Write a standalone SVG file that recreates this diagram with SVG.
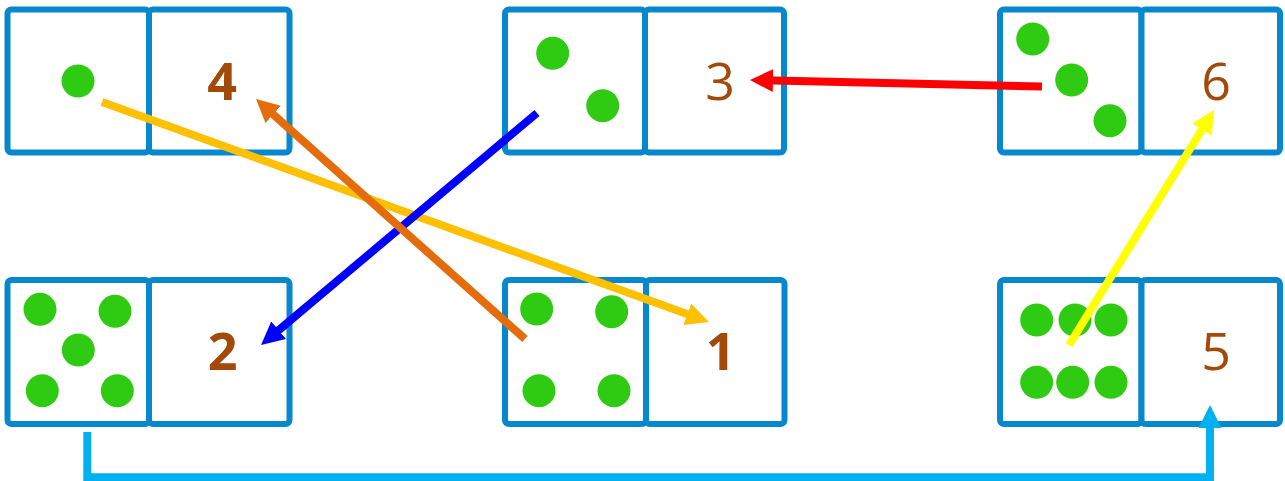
<svg xmlns="http://www.w3.org/2000/svg" width="1285" height="481" viewBox="0 0 1285 481">
<style>
.cell{fill:#fff;stroke:#0787cd;stroke-width:6}
.dot{fill:#2fcb12}
.num{font-family:"Open Sans","Liberation Sans",sans-serif;font-size:52px;fill:#a3490a;text-anchor:middle;font-weight:500}
.b{font-weight:bold}
.ln{fill:none;stroke-width:8}
</style>
<defs>
<marker id="mYo" markerUnits="userSpaceOnUse" markerWidth="23" markerHeight="23" refX="10" refY="11.5" orient="auto"><path d="M0,0 L23,11.5 L0,23 z" fill="#ffc000"/></marker>
<marker id="mOr" markerUnits="userSpaceOnUse" markerWidth="23" markerHeight="23" refX="10" refY="11.5" orient="auto"><path d="M0,0 L23,11.5 L0,23 z" fill="#e46c0a"/></marker>
<marker id="mBl" markerUnits="userSpaceOnUse" markerWidth="23" markerHeight="23" refX="10" refY="11.5" orient="auto"><path d="M0,0 L23,11.5 L0,23 z" fill="#0000ff"/></marker>
<marker id="mRd" markerUnits="userSpaceOnUse" markerWidth="23" markerHeight="23" refX="10" refY="11.5" orient="auto"><path d="M0,0 L23,11.5 L0,23 z" fill="#ff0000"/></marker>
<marker id="mYe" markerUnits="userSpaceOnUse" markerWidth="23" markerHeight="23" refX="10" refY="11.5" orient="auto"><path d="M0,0 L23,11.5 L0,23 z" fill="#ffff00"/></marker>
<marker id="mLb" markerUnits="userSpaceOnUse" markerWidth="23" markerHeight="23" refX="10" refY="11.5" orient="auto"><path d="M0,0 L23,11.5 L0,23 z" fill="#00b0f0"/></marker>
</defs>

<g id="domino-1-4">
<rect class="cell" x="7.5" y="9.5" width="141.5" height="143" rx="4"/>
<rect class="cell" x="149" y="9.5" width="140.5" height="143" rx="4"/>
<circle class="dot" cx="78" cy="81" r="16.5"/>
<text class="num b" x="222" y="100">4</text>
</g>

<g id="domino-2-3">
<rect class="cell" x="505" y="9.5" width="140" height="143" rx="4"/>
<rect class="cell" x="645" y="9.5" width="139" height="143" rx="4"/>
<circle class="dot" cx="552.7" cy="53.3" r="16.5"/>
<circle class="dot" cx="602.7" cy="105.7" r="16.5"/>
<text class="num" x="720" y="100">3</text>
</g>

<g id="domino-3-6">
<rect class="cell" x="1000" y="9.5" width="141.5" height="143" rx="4"/>
<rect class="cell" x="1141.5" y="9.5" width="138.5" height="143" rx="4"/>
<circle class="dot" cx="1032.7" cy="39" r="16.5"/>
<circle class="dot" cx="1071.7" cy="80" r="16.5"/>
<circle class="dot" cx="1110" cy="120.7" r="16.5"/>
<text class="num" x="1216" y="100">6</text>
</g>

<g id="domino-5-2">
<rect class="cell" x="7.5" y="280" width="141.5" height="144" rx="4"/>
<rect class="cell" x="149" y="280" width="140.5" height="144" rx="4"/>
<circle class="dot" cx="40" cy="309.3" r="16.5"/>
<circle class="dot" cx="115" cy="311.3" r="16.5"/>
<circle class="dot" cx="78.3" cy="350" r="16.5"/>
<circle class="dot" cx="42.3" cy="390.7" r="16.5"/>
<circle class="dot" cx="117.3" cy="390.7" r="16.5"/>
<text class="num b" x="222.7" y="370">2</text>
</g>

<g id="domino-4-1">
<rect class="cell" x="505" y="280" width="141" height="144" rx="4"/>
<rect class="cell" x="646" y="280" width="138.5" height="144" rx="4"/>
<circle class="dot" cx="536.7" cy="309" r="16.5"/>
<circle class="dot" cx="611.7" cy="311.7" r="16.5"/>
<circle class="dot" cx="539" cy="390.7" r="16.5"/>
<circle class="dot" cx="614" cy="390.7" r="16.5"/>
<text class="num b" x="720.7" y="370">1</text>
</g>

<g id="domino-6-5">
<rect class="cell" x="1000" y="280" width="141.5" height="144" rx="4"/>
<rect class="cell" x="1141.5" y="280" width="138.5" height="144" rx="4"/>
<circle class="dot" cx="1036.7" cy="320" r="16.5"/>
<circle class="dot" cx="1075" cy="320" r="16.5"/>
<circle class="dot" cx="1111" cy="320" r="16.5"/>
<circle class="dot" cx="1036.7" cy="382.3" r="16.5"/>
<circle class="dot" cx="1072.7" cy="382.3" r="16.5"/>
<circle class="dot" cx="1111" cy="382.3" r="16.5"/>
<text class="num" x="1216" y="370">5</text>
</g>

<g id="connectors">
<line class="ln" x1="102" y1="102" x2="696.7" y2="317.6" stroke="#ffc000" marker-end="url(#mYo)"/>
<line class="ln" x1="537" y1="113" x2="271" y2="336.6" stroke="#0000ff" marker-end="url(#mBl)"/>
<line class="ln" x1="525" y1="339" x2="265.7" y2="107.7" stroke="#e46c0a" marker-end="url(#mOr)"/>
<line class="ln" x1="1042" y1="86.5" x2="763" y2="80.3" stroke="#ff0000" marker-end="url(#mRd)"/>
<line class="ln" x1="1069" y1="345" x2="1207.2" y2="121" stroke="#ffff00" marker-end="url(#mYe)"/>
<path class="ln" d="M87.3,432 V477.3 H1210 V418" stroke="#00b0f0" stroke-width="6.5" marker-end="url(#mLb)"/>
</g>
</svg>
